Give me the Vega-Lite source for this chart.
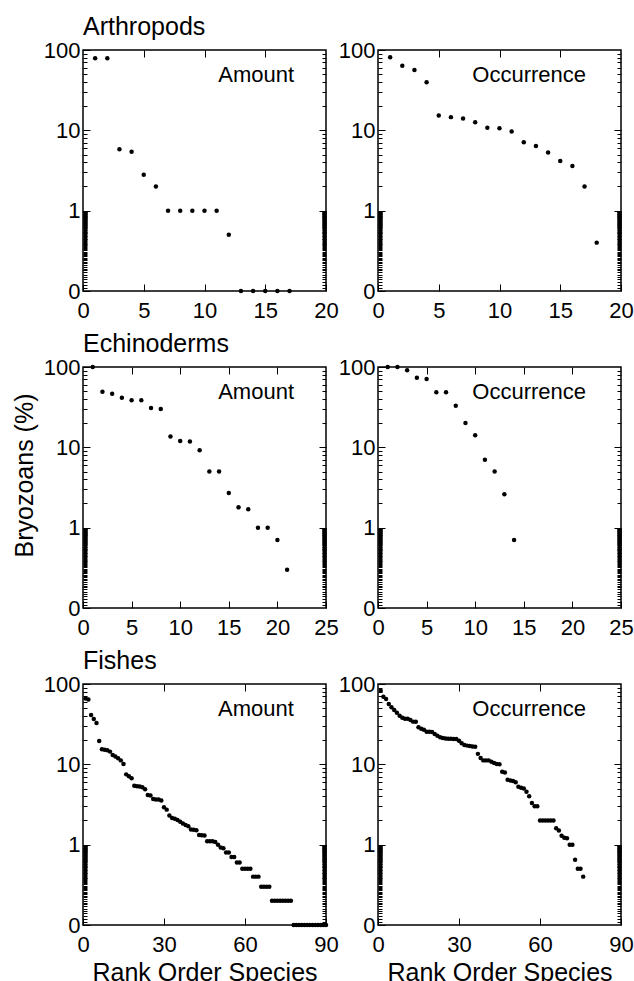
{
"$schema": "https://vega.github.io/schema/vega-lite/v6.json",
"padding": {"left": 11, "top": 15, "right": 0, "bottom": 0},
"spacing": 10,
"config": {
  "font": "Liberation Sans",
  "view": {"stroke": "black", "strokeWidth": 1.5},
  "axis": {"grid": false, "domain": false, "tickColor": "black", "tickWidth": 1, "labelFontSize": 22, "labelColor": "black", "labelFlush": false, "labelOverlap": false, "titleColor": "black", "titleFontWeight": "normal", "titleFontSize": 25},
  "title": {"color": "black", "fontWeight": "normal"}
},
"datasets": {
  "arth_amt": [{"rank":1,"pct":79},{"rank":2,"pct":79},{"rank":3,"pct":5.8},{"rank":4,"pct":5.4},{"rank":5,"pct":2.8},{"rank":6,"pct":2},{"rank":7,"pct":1},{"rank":8,"pct":1},{"rank":9,"pct":1},{"rank":10,"pct":1},{"rank":11,"pct":1},{"rank":12,"pct":0.5},{"rank":13,"pct":0},{"rank":14,"pct":0},{"rank":15,"pct":0},{"rank":16,"pct":0},{"rank":17,"pct":0}],
  "arth_occ": [{"rank":1,"pct":81},{"rank":2,"pct":63.8},{"rank":3,"pct":56.4},{"rank":4,"pct":39.6},{"rank":5,"pct":15.3},{"rank":6,"pct":14.6},{"rank":7,"pct":14},{"rank":8,"pct":12.6},{"rank":9,"pct":10.8},{"rank":10,"pct":10.6},{"rank":11,"pct":9.7},{"rank":12,"pct":7.1},{"rank":13,"pct":6.4},{"rank":14,"pct":5.3},{"rank":15,"pct":4.15},{"rank":16,"pct":3.6},{"rank":17,"pct":2},{"rank":18,"pct":0.4}],
  "echi_amt": [{"rank":1,"pct":100},{"rank":2,"pct":49.3},{"rank":3,"pct":46.6},{"rank":4,"pct":41.5},{"rank":5,"pct":38.5},{"rank":6,"pct":38.5},{"rank":7,"pct":30.9},{"rank":8,"pct":30},{"rank":9,"pct":13.6},{"rank":10,"pct":12},{"rank":11,"pct":11.8},{"rank":12,"pct":9.2},{"rank":13,"pct":5},{"rank":14,"pct":5},{"rank":15,"pct":2.7},{"rank":16,"pct":1.79},{"rank":17,"pct":1.69},{"rank":18,"pct":1},{"rank":19,"pct":1},{"rank":20,"pct":0.7},{"rank":21,"pct":0.3}],
  "echi_occ": [{"rank":1,"pct":100},{"rank":2,"pct":100},{"rank":3,"pct":91},{"rank":4,"pct":73.6},{"rank":5,"pct":70.9},{"rank":6,"pct":48.4},{"rank":7,"pct":48.4},{"rank":8,"pct":33},{"rank":9,"pct":20.1},{"rank":10,"pct":14.1},{"rank":11,"pct":7},{"rank":12,"pct":5},{"rank":13,"pct":2.6},{"rank":14,"pct":0.7}],
  "fish_amt": [{"rank":1,"pct":66},{"rank":2,"pct":64},{"rank":3,"pct":41},{"rank":4,"pct":36.6},{"rank":5,"pct":32.7},{"rank":6,"pct":19.5},{"rank":7,"pct":15.4},{"rank":8,"pct":15.2},{"rank":9,"pct":15},{"rank":10,"pct":14.4},{"rank":11,"pct":13.1},{"rank":12,"pct":12.5},{"rank":13,"pct":11.9},{"rank":14,"pct":11.2},{"rank":15,"pct":10.1},{"rank":16,"pct":7.5},{"rank":17,"pct":7.1},{"rank":18,"pct":6.7},{"rank":19,"pct":5.4},{"rank":20,"pct":5.35},{"rank":21,"pct":5.3},{"rank":22,"pct":5.2},{"rank":23,"pct":4.9},{"rank":24,"pct":4.15},{"rank":25,"pct":4.1},{"rank":26,"pct":3.7},{"rank":27,"pct":3.65},{"rank":28,"pct":3.65},{"rank":29,"pct":3.55},{"rank":30,"pct":2.92},{"rank":31,"pct":2.73},{"rank":32,"pct":2.3},{"rank":33,"pct":2.15},{"rank":34,"pct":2.1},{"rank":35,"pct":2.03},{"rank":36,"pct":1.93},{"rank":37,"pct":1.84},{"rank":38,"pct":1.76},{"rank":39,"pct":1.7},{"rank":40,"pct":1.54},{"rank":41,"pct":1.53},{"rank":42,"pct":1.51},{"rank":43,"pct":1.32},{"rank":44,"pct":1.31},{"rank":45,"pct":1.3},{"rank":46,"pct":1.1},{"rank":47,"pct":1.1},{"rank":48,"pct":1.1},{"rank":49,"pct":1.08},{"rank":50,"pct":1},{"rank":51,"pct":0.92},{"rank":52,"pct":0.9},{"rank":53,"pct":0.8},{"rank":54,"pct":0.8},{"rank":55,"pct":0.7},{"rank":56,"pct":0.7},{"rank":57,"pct":0.6},{"rank":58,"pct":0.6},{"rank":59,"pct":0.5},{"rank":60,"pct":0.5},{"rank":61,"pct":0.5},{"rank":62,"pct":0.5},{"rank":63,"pct":0.4},{"rank":64,"pct":0.4},{"rank":65,"pct":0.4},{"rank":66,"pct":0.3},{"rank":67,"pct":0.3},{"rank":68,"pct":0.3},{"rank":69,"pct":0.3},{"rank":70,"pct":0.2},{"rank":71,"pct":0.2},{"rank":72,"pct":0.2},{"rank":73,"pct":0.2},{"rank":74,"pct":0.2},{"rank":75,"pct":0.2},{"rank":76,"pct":0.2},{"rank":77,"pct":0.2},{"rank":78,"pct":0},{"rank":79,"pct":0},{"rank":80,"pct":0},{"rank":81,"pct":0},{"rank":82,"pct":0},{"rank":83,"pct":0},{"rank":84,"pct":0},{"rank":85,"pct":0},{"rank":86,"pct":0},{"rank":87,"pct":0},{"rank":88,"pct":0},{"rank":89,"pct":0},{"rank":90,"pct":0}],
  "fish_occ": [{"rank":1,"pct":82.6},{"rank":2,"pct":69.5},{"rank":3,"pct":65},{"rank":4,"pct":56.4},{"rank":5,"pct":51.2},{"rank":6,"pct":47.5},{"rank":7,"pct":44},{"rank":8,"pct":40.3},{"rank":9,"pct":38.1},{"rank":10,"pct":37},{"rank":11,"pct":37},{"rank":12,"pct":35.6},{"rank":13,"pct":34},{"rank":14,"pct":33.8},{"rank":15,"pct":28.9},{"rank":16,"pct":27.8},{"rank":17,"pct":27},{"rank":18,"pct":25.5},{"rank":19,"pct":25.5},{"rank":20,"pct":25.3},{"rank":21,"pct":23.9},{"rank":22,"pct":22.7},{"rank":23,"pct":21.7},{"rank":24,"pct":21.3},{"rank":25,"pct":21},{"rank":26,"pct":20.8},{"rank":27,"pct":20.8},{"rank":28,"pct":20.7},{"rank":29,"pct":20.7},{"rank":30,"pct":19.7},{"rank":31,"pct":18.3},{"rank":32,"pct":17.4},{"rank":33,"pct":17.1},{"rank":34,"pct":16.9},{"rank":35,"pct":16.7},{"rank":36,"pct":16.6},{"rank":37,"pct":13.5},{"rank":38,"pct":12},{"rank":39,"pct":11.2},{"rank":40,"pct":11.2},{"rank":41,"pct":11.2},{"rank":42,"pct":10.8},{"rank":43,"pct":10.4},{"rank":44,"pct":10.1},{"rank":45,"pct":10},{"rank":46,"pct":8.1},{"rank":47,"pct":7.9},{"rank":48,"pct":6.44},{"rank":49,"pct":6.3},{"rank":50,"pct":6.2},{"rank":51,"pct":5.97},{"rank":52,"pct":5.27},{"rank":53,"pct":5.12},{"rank":54,"pct":5},{"rank":55,"pct":4.57},{"rank":56,"pct":4},{"rank":57,"pct":3.3},{"rank":58,"pct":3},{"rank":59,"pct":3},{"rank":60,"pct":2},{"rank":61,"pct":2},{"rank":62,"pct":2},{"rank":63,"pct":2},{"rank":64,"pct":2},{"rank":65,"pct":2},{"rank":66,"pct":1.6},{"rank":67,"pct":1.5},{"rank":68,"pct":1.29},{"rank":69,"pct":1.22},{"rank":70,"pct":1.2},{"rank":71,"pct":1},{"rank":72,"pct":1},{"rank":73,"pct":0.65},{"rank":74,"pct":0.5},{"rank":75,"pct":0.5},{"rank":76,"pct":0.4}]
},
"vconcat": [
 {"title": {"text": "Arthropods", "anchor": "start", "frame": "group", "fontSize": 25, "offset": -2},
  "bounds": "flush", "spacing": 52,
  "hconcat": [
   {"width": 243, "height": 241, "data": {"name": "arth_amt"},
    "resolve": {"axis": {"x": "independent", "y": "independent"}},
    "layer": [
     {"mark": {"type": "point", "filled": true, "color": "black", "size": 20, "opacity": 1},
      "encoding": {"x": {"field": "rank", "type": "quantitative", "scale": {"domain": [0,20], "nice": false, "zero": false}, "axis": {"orient": "bottom", "values": [0,5,10,15,20], "tickSize": -7, "labelPadding": 16, "title": null}},
                   "y": {"field": "pct", "type": "quantitative", "scale": {"type": "log", "domain": [0.1,100], "nice": false, "clamp": true}, "axis": {"orient": "left", "values": [0.1,1,10,100], "labelExpr": "datum.value < 0.5 ? '0' : format(datum.value, 'd')", "tickSize": -7, "labelPadding": 10, "title": " ", "titlePadding": 6, "titleY": 108}}}},
     {"data": {"values": [{}]}, "mark": {"type": "text", "align": "right", "baseline": "alphabetic", "fontSize": 22, "color": "black"},
      "encoding": {"x": {"datum": 17.37, "type": "quantitative", "scale": {"domain": [0,20], "nice": false, "zero": false}, "axis": null},
                   "y": {"datum": 40.3, "type": "quantitative", "scale": {"type": "log", "domain": [0.1,100], "nice": false, "clamp": true}, "axis": null},
                   "text": {"value": "Amount"}}},
     {"mark": {"type": "point", "opacity": 0},
      "encoding": {"x": {"field": "rank", "type": "quantitative", "scale": {"domain": [0,20], "nice": false, "zero": false}, "axis": {"orient": "top", "values": [5,10,15], "tickSize": -7, "labels": false, "title": null}},
                   "y": {"field": "pct", "type": "quantitative", "scale": {"type": "log", "domain": [0.1,100], "nice": false, "clamp": true}, "axis": {"orient": "right", "values": [1,10], "tickSize": -7, "labels": false, "title": null}}}},
     {"mark": {"type": "point", "opacity": 0},
      "encoding": {"x": {"field": "rank", "type": "quantitative", "scale": {"domain": [0,20], "nice": false, "zero": false}, "axis": null},
                   "y": {"field": "pct", "type": "quantitative", "scale": {"type": "log", "domain": [0.1,100], "nice": false, "clamp": true}, "axis": {"orient": "left", "values": [0.11,0.12,0.13,0.14,0.15,0.16,0.17,0.18,0.19,0.2,0.21,0.22,0.23,0.24,0.25,0.26,0.27,0.28,0.29,0.3,0.31,0.32,0.33,0.34,0.35,0.36,0.37,0.38,0.39,0.4,0.41,0.42,0.43,0.44,0.45,0.46,0.47,0.48,0.49,0.5,0.51,0.52,0.53,0.54,0.55,0.56,0.57,0.58,0.59,0.6,0.61,0.62,0.63,0.64,0.65,0.66,0.67,0.68,0.69,0.7,0.71,0.72,0.73,0.74,0.75,0.76,0.77,0.78,0.79,0.8,0.81,0.82,0.83,0.84,0.85,0.86,0.87,0.88,0.89,0.9,0.91,0.92,0.93,0.94,0.95,0.96,0.97,0.98,0.99,2,3,4,5,6,7,8,9,20,30,40,50,60,70,80,90], "tickSize": -4, "labels": false, "title": null}}}},
     {"mark": {"type": "point", "opacity": 0},
      "encoding": {"x": {"field": "rank", "type": "quantitative", "scale": {"domain": [0,20], "nice": false, "zero": false}, "axis": null},
                   "y": {"field": "pct", "type": "quantitative", "scale": {"type": "log", "domain": [0.1,100], "nice": false, "clamp": true}, "axis": {"orient": "right", "values": [0.11,0.12,0.13,0.14,0.15,0.16,0.17,0.18,0.19,0.2,0.21,0.22,0.23,0.24,0.25,0.26,0.27,0.28,0.29,0.3,0.31,0.32,0.33,0.34,0.35,0.36,0.37,0.38,0.39,0.4,0.41,0.42,0.43,0.44,0.45,0.46,0.47,0.48,0.49,0.5,0.51,0.52,0.53,0.54,0.55,0.56,0.57,0.58,0.59,0.6,0.61,0.62,0.63,0.64,0.65,0.66,0.67,0.68,0.69,0.7,0.71,0.72,0.73,0.74,0.75,0.76,0.77,0.78,0.79,0.8,0.81,0.82,0.83,0.84,0.85,0.86,0.87,0.88,0.89,0.9,0.91,0.92,0.93,0.94,0.95,0.96,0.97,0.98,0.99,2,3,4,5,6,7,8,9,20,30,40,50,60,70,80,90], "tickSize": -4, "labels": false, "title": null}}}}
    ]},
   {"width": 243, "height": 241, "data": {"name": "arth_occ"},
    "resolve": {"axis": {"x": "independent", "y": "independent"}},
    "layer": [
     {"mark": {"type": "point", "filled": true, "color": "black", "size": 20, "opacity": 1},
      "encoding": {"x": {"field": "rank", "type": "quantitative", "scale": {"domain": [0,20], "nice": false, "zero": false}, "axis": {"orient": "bottom", "values": [0,5,10,15,20], "tickSize": -7, "labelPadding": 16, "title": null}},
                   "y": {"field": "pct", "type": "quantitative", "scale": {"type": "log", "domain": [0.1,100], "nice": false, "clamp": true}, "axis": {"orient": "left", "values": [0.1,1,10,100], "labelExpr": "datum.value < 0.5 ? '0' : format(datum.value, 'd')", "tickSize": -7, "labelPadding": 10, "title": null}}}},
     {"data": {"values": [{}]}, "mark": {"type": "text", "align": "right", "baseline": "alphabetic", "fontSize": 22, "color": "black"},
      "encoding": {"x": {"datum": 17.12, "type": "quantitative", "scale": {"domain": [0,20], "nice": false, "zero": false}, "axis": null},
                   "y": {"datum": 40.3, "type": "quantitative", "scale": {"type": "log", "domain": [0.1,100], "nice": false, "clamp": true}, "axis": null},
                   "text": {"value": "Occurrence"}}},
     {"mark": {"type": "point", "opacity": 0},
      "encoding": {"x": {"field": "rank", "type": "quantitative", "scale": {"domain": [0,20], "nice": false, "zero": false}, "axis": {"orient": "top", "values": [5,10,15], "tickSize": -7, "labels": false, "title": null}},
                   "y": {"field": "pct", "type": "quantitative", "scale": {"type": "log", "domain": [0.1,100], "nice": false, "clamp": true}, "axis": {"orient": "right", "values": [1,10], "tickSize": -7, "labels": false, "title": null}}}},
     {"mark": {"type": "point", "opacity": 0},
      "encoding": {"x": {"field": "rank", "type": "quantitative", "scale": {"domain": [0,20], "nice": false, "zero": false}, "axis": null},
                   "y": {"field": "pct", "type": "quantitative", "scale": {"type": "log", "domain": [0.1,100], "nice": false, "clamp": true}, "axis": {"orient": "left", "values": [0.11,0.12,0.13,0.14,0.15,0.16,0.17,0.18,0.19,0.2,0.21,0.22,0.23,0.24,0.25,0.26,0.27,0.28,0.29,0.3,0.31,0.32,0.33,0.34,0.35,0.36,0.37,0.38,0.39,0.4,0.41,0.42,0.43,0.44,0.45,0.46,0.47,0.48,0.49,0.5,0.51,0.52,0.53,0.54,0.55,0.56,0.57,0.58,0.59,0.6,0.61,0.62,0.63,0.64,0.65,0.66,0.67,0.68,0.69,0.7,0.71,0.72,0.73,0.74,0.75,0.76,0.77,0.78,0.79,0.8,0.81,0.82,0.83,0.84,0.85,0.86,0.87,0.88,0.89,0.9,0.91,0.92,0.93,0.94,0.95,0.96,0.97,0.98,0.99,2,3,4,5,6,7,8,9,20,30,40,50,60,70,80,90], "tickSize": -4, "labels": false, "title": null}}}},
     {"mark": {"type": "point", "opacity": 0},
      "encoding": {"x": {"field": "rank", "type": "quantitative", "scale": {"domain": [0,20], "nice": false, "zero": false}, "axis": null},
                   "y": {"field": "pct", "type": "quantitative", "scale": {"type": "log", "domain": [0.1,100], "nice": false, "clamp": true}, "axis": {"orient": "right", "values": [0.11,0.12,0.13,0.14,0.15,0.16,0.17,0.18,0.19,0.2,0.21,0.22,0.23,0.24,0.25,0.26,0.27,0.28,0.29,0.3,0.31,0.32,0.33,0.34,0.35,0.36,0.37,0.38,0.39,0.4,0.41,0.42,0.43,0.44,0.45,0.46,0.47,0.48,0.49,0.5,0.51,0.52,0.53,0.54,0.55,0.56,0.57,0.58,0.59,0.6,0.61,0.62,0.63,0.64,0.65,0.66,0.67,0.68,0.69,0.7,0.71,0.72,0.73,0.74,0.75,0.76,0.77,0.78,0.79,0.8,0.81,0.82,0.83,0.84,0.85,0.86,0.87,0.88,0.89,0.9,0.91,0.92,0.93,0.94,0.95,0.96,0.97,0.98,0.99,2,3,4,5,6,7,8,9,20,30,40,50,60,70,80,90], "tickSize": -4, "labels": false, "title": null}}}}
    ]}
  ]},
 {"title": {"text": "Echinoderms", "anchor": "start", "frame": "group", "fontSize": 25, "offset": -2},
  "bounds": "flush", "spacing": 52,
  "hconcat": [
   {"width": 243, "height": 241, "data": {"name": "echi_amt"},
    "resolve": {"axis": {"x": "independent", "y": "independent"}},
    "layer": [
     {"mark": {"type": "point", "filled": true, "color": "black", "size": 20, "opacity": 1},
      "encoding": {"x": {"field": "rank", "type": "quantitative", "scale": {"domain": [0,25], "nice": false, "zero": false}, "axis": {"orient": "bottom", "values": [0,5,10,15,20,25], "tickSize": -7, "labelPadding": 16, "title": null}},
                   "y": {"field": "pct", "type": "quantitative", "scale": {"type": "log", "domain": [0.1,100], "nice": false, "clamp": true}, "axis": {"orient": "left", "values": [0.1,1,10,100], "labelExpr": "datum.value < 0.5 ? '0' : format(datum.value, 'd')", "tickSize": -7, "labelPadding": 10, "title": "Bryozoans (%)", "titlePadding": 6, "titleY": 108}}}},
     {"data": {"values": [{}]}, "mark": {"type": "text", "align": "right", "baseline": "alphabetic", "fontSize": 22, "color": "black"},
      "encoding": {"x": {"datum": 21.71, "type": "quantitative", "scale": {"domain": [0,25], "nice": false, "zero": false}, "axis": null},
                   "y": {"datum": 40.3, "type": "quantitative", "scale": {"type": "log", "domain": [0.1,100], "nice": false, "clamp": true}, "axis": null},
                   "text": {"value": "Amount"}}},
     {"mark": {"type": "point", "opacity": 0},
      "encoding": {"x": {"field": "rank", "type": "quantitative", "scale": {"domain": [0,25], "nice": false, "zero": false}, "axis": {"orient": "top", "values": [5,10,15,20], "tickSize": -7, "labels": false, "title": null}},
                   "y": {"field": "pct", "type": "quantitative", "scale": {"type": "log", "domain": [0.1,100], "nice": false, "clamp": true}, "axis": {"orient": "right", "values": [1,10], "tickSize": -7, "labels": false, "title": null}}}},
     {"mark": {"type": "point", "opacity": 0},
      "encoding": {"x": {"field": "rank", "type": "quantitative", "scale": {"domain": [0,25], "nice": false, "zero": false}, "axis": null},
                   "y": {"field": "pct", "type": "quantitative", "scale": {"type": "log", "domain": [0.1,100], "nice": false, "clamp": true}, "axis": {"orient": "left", "values": [0.11,0.12,0.13,0.14,0.15,0.16,0.17,0.18,0.19,0.2,0.21,0.22,0.23,0.24,0.25,0.26,0.27,0.28,0.29,0.3,0.31,0.32,0.33,0.34,0.35,0.36,0.37,0.38,0.39,0.4,0.41,0.42,0.43,0.44,0.45,0.46,0.47,0.48,0.49,0.5,0.51,0.52,0.53,0.54,0.55,0.56,0.57,0.58,0.59,0.6,0.61,0.62,0.63,0.64,0.65,0.66,0.67,0.68,0.69,0.7,0.71,0.72,0.73,0.74,0.75,0.76,0.77,0.78,0.79,0.8,0.81,0.82,0.83,0.84,0.85,0.86,0.87,0.88,0.89,0.9,0.91,0.92,0.93,0.94,0.95,0.96,0.97,0.98,0.99,2,3,4,5,6,7,8,9,20,30,40,50,60,70,80,90], "tickSize": -4, "labels": false, "title": null}}}},
     {"mark": {"type": "point", "opacity": 0},
      "encoding": {"x": {"field": "rank", "type": "quantitative", "scale": {"domain": [0,25], "nice": false, "zero": false}, "axis": null},
                   "y": {"field": "pct", "type": "quantitative", "scale": {"type": "log", "domain": [0.1,100], "nice": false, "clamp": true}, "axis": {"orient": "right", "values": [0.11,0.12,0.13,0.14,0.15,0.16,0.17,0.18,0.19,0.2,0.21,0.22,0.23,0.24,0.25,0.26,0.27,0.28,0.29,0.3,0.31,0.32,0.33,0.34,0.35,0.36,0.37,0.38,0.39,0.4,0.41,0.42,0.43,0.44,0.45,0.46,0.47,0.48,0.49,0.5,0.51,0.52,0.53,0.54,0.55,0.56,0.57,0.58,0.59,0.6,0.61,0.62,0.63,0.64,0.65,0.66,0.67,0.68,0.69,0.7,0.71,0.72,0.73,0.74,0.75,0.76,0.77,0.78,0.79,0.8,0.81,0.82,0.83,0.84,0.85,0.86,0.87,0.88,0.89,0.9,0.91,0.92,0.93,0.94,0.95,0.96,0.97,0.98,0.99,2,3,4,5,6,7,8,9,20,30,40,50,60,70,80,90], "tickSize": -4, "labels": false, "title": null}}}}
    ]},
   {"width": 243, "height": 241, "data": {"name": "echi_occ"},
    "resolve": {"axis": {"x": "independent", "y": "independent"}},
    "layer": [
     {"mark": {"type": "point", "filled": true, "color": "black", "size": 20, "opacity": 1},
      "encoding": {"x": {"field": "rank", "type": "quantitative", "scale": {"domain": [0,25], "nice": false, "zero": false}, "axis": {"orient": "bottom", "values": [0,5,10,15,20,25], "tickSize": -7, "labelPadding": 16, "title": null}},
                   "y": {"field": "pct", "type": "quantitative", "scale": {"type": "log", "domain": [0.1,100], "nice": false, "clamp": true}, "axis": {"orient": "left", "values": [0.1,1,10,100], "labelExpr": "datum.value < 0.5 ? '0' : format(datum.value, 'd')", "tickSize": -7, "labelPadding": 10, "title": null}}}},
     {"data": {"values": [{}]}, "mark": {"type": "text", "align": "right", "baseline": "alphabetic", "fontSize": 22, "color": "black"},
      "encoding": {"x": {"datum": 21.4, "type": "quantitative", "scale": {"domain": [0,25], "nice": false, "zero": false}, "axis": null},
                   "y": {"datum": 40.3, "type": "quantitative", "scale": {"type": "log", "domain": [0.1,100], "nice": false, "clamp": true}, "axis": null},
                   "text": {"value": "Occurrence"}}},
     {"mark": {"type": "point", "opacity": 0},
      "encoding": {"x": {"field": "rank", "type": "quantitative", "scale": {"domain": [0,25], "nice": false, "zero": false}, "axis": {"orient": "top", "values": [5,10,15,20], "tickSize": -7, "labels": false, "title": null}},
                   "y": {"field": "pct", "type": "quantitative", "scale": {"type": "log", "domain": [0.1,100], "nice": false, "clamp": true}, "axis": {"orient": "right", "values": [1,10], "tickSize": -7, "labels": false, "title": null}}}},
     {"mark": {"type": "point", "opacity": 0},
      "encoding": {"x": {"field": "rank", "type": "quantitative", "scale": {"domain": [0,25], "nice": false, "zero": false}, "axis": null},
                   "y": {"field": "pct", "type": "quantitative", "scale": {"type": "log", "domain": [0.1,100], "nice": false, "clamp": true}, "axis": {"orient": "left", "values": [0.11,0.12,0.13,0.14,0.15,0.16,0.17,0.18,0.19,0.2,0.21,0.22,0.23,0.24,0.25,0.26,0.27,0.28,0.29,0.3,0.31,0.32,0.33,0.34,0.35,0.36,0.37,0.38,0.39,0.4,0.41,0.42,0.43,0.44,0.45,0.46,0.47,0.48,0.49,0.5,0.51,0.52,0.53,0.54,0.55,0.56,0.57,0.58,0.59,0.6,0.61,0.62,0.63,0.64,0.65,0.66,0.67,0.68,0.69,0.7,0.71,0.72,0.73,0.74,0.75,0.76,0.77,0.78,0.79,0.8,0.81,0.82,0.83,0.84,0.85,0.86,0.87,0.88,0.89,0.9,0.91,0.92,0.93,0.94,0.95,0.96,0.97,0.98,0.99,2,3,4,5,6,7,8,9,20,30,40,50,60,70,80,90], "tickSize": -4, "labels": false, "title": null}}}},
     {"mark": {"type": "point", "opacity": 0},
      "encoding": {"x": {"field": "rank", "type": "quantitative", "scale": {"domain": [0,25], "nice": false, "zero": false}, "axis": null},
                   "y": {"field": "pct", "type": "quantitative", "scale": {"type": "log", "domain": [0.1,100], "nice": false, "clamp": true}, "axis": {"orient": "right", "values": [0.11,0.12,0.13,0.14,0.15,0.16,0.17,0.18,0.19,0.2,0.21,0.22,0.23,0.24,0.25,0.26,0.27,0.28,0.29,0.3,0.31,0.32,0.33,0.34,0.35,0.36,0.37,0.38,0.39,0.4,0.41,0.42,0.43,0.44,0.45,0.46,0.47,0.48,0.49,0.5,0.51,0.52,0.53,0.54,0.55,0.56,0.57,0.58,0.59,0.6,0.61,0.62,0.63,0.64,0.65,0.66,0.67,0.68,0.69,0.7,0.71,0.72,0.73,0.74,0.75,0.76,0.77,0.78,0.79,0.8,0.81,0.82,0.83,0.84,0.85,0.86,0.87,0.88,0.89,0.9,0.91,0.92,0.93,0.94,0.95,0.96,0.97,0.98,0.99,2,3,4,5,6,7,8,9,20,30,40,50,60,70,80,90], "tickSize": -4, "labels": false, "title": null}}}}
    ]}
  ]},
 {"title": {"text": "Fishes", "anchor": "start", "frame": "group", "fontSize": 25, "offset": -2},
  "bounds": "flush", "spacing": 52,
  "hconcat": [
   {"width": 243, "height": 241, "data": {"name": "fish_amt"},
    "resolve": {"axis": {"x": "independent", "y": "independent"}},
    "layer": [
     {"mark": {"type": "point", "filled": true, "color": "black", "size": 20, "opacity": 1},
      "encoding": {"x": {"field": "rank", "type": "quantitative", "scale": {"domain": [0,90], "nice": false, "zero": false}, "axis": {"orient": "bottom", "values": [0,30,60,90], "tickSize": -7, "labelPadding": 16, "title": "Rank Order Species", "titlePadding": 5}},
                   "y": {"field": "pct", "type": "quantitative", "scale": {"type": "log", "domain": [0.1,100], "nice": false, "clamp": true}, "axis": {"orient": "left", "values": [0.1,1,10,100], "labelExpr": "datum.value < 0.5 ? '0' : format(datum.value, 'd')", "tickSize": -7, "labelPadding": 10, "title": " ", "titlePadding": 6, "titleY": 108}}}},
     {"data": {"values": [{}]}, "mark": {"type": "text", "align": "right", "baseline": "alphabetic", "fontSize": 22, "color": "black"},
      "encoding": {"x": {"datum": 78.1, "type": "quantitative", "scale": {"domain": [0,90], "nice": false, "zero": false}, "axis": null},
                   "y": {"datum": 40.3, "type": "quantitative", "scale": {"type": "log", "domain": [0.1,100], "nice": false, "clamp": true}, "axis": null},
                   "text": {"value": "Amount"}}},
     {"mark": {"type": "point", "opacity": 0},
      "encoding": {"x": {"field": "rank", "type": "quantitative", "scale": {"domain": [0,90], "nice": false, "zero": false}, "axis": {"orient": "top", "values": [30,60], "tickSize": -7, "labels": false, "title": null}},
                   "y": {"field": "pct", "type": "quantitative", "scale": {"type": "log", "domain": [0.1,100], "nice": false, "clamp": true}, "axis": {"orient": "right", "values": [1,10], "tickSize": -7, "labels": false, "title": null}}}},
     {"mark": {"type": "point", "opacity": 0},
      "encoding": {"x": {"field": "rank", "type": "quantitative", "scale": {"domain": [0,90], "nice": false, "zero": false}, "axis": null},
                   "y": {"field": "pct", "type": "quantitative", "scale": {"type": "log", "domain": [0.1,100], "nice": false, "clamp": true}, "axis": {"orient": "left", "values": [0.11,0.12,0.13,0.14,0.15,0.16,0.17,0.18,0.19,0.2,0.21,0.22,0.23,0.24,0.25,0.26,0.27,0.28,0.29,0.3,0.31,0.32,0.33,0.34,0.35,0.36,0.37,0.38,0.39,0.4,0.41,0.42,0.43,0.44,0.45,0.46,0.47,0.48,0.49,0.5,0.51,0.52,0.53,0.54,0.55,0.56,0.57,0.58,0.59,0.6,0.61,0.62,0.63,0.64,0.65,0.66,0.67,0.68,0.69,0.7,0.71,0.72,0.73,0.74,0.75,0.76,0.77,0.78,0.79,0.8,0.81,0.82,0.83,0.84,0.85,0.86,0.87,0.88,0.89,0.9,0.91,0.92,0.93,0.94,0.95,0.96,0.97,0.98,0.99,2,3,4,5,6,7,8,9,20,30,40,50,60,70,80,90], "tickSize": -4, "labels": false, "title": null}}}},
     {"mark": {"type": "point", "opacity": 0},
      "encoding": {"x": {"field": "rank", "type": "quantitative", "scale": {"domain": [0,90], "nice": false, "zero": false}, "axis": null},
                   "y": {"field": "pct", "type": "quantitative", "scale": {"type": "log", "domain": [0.1,100], "nice": false, "clamp": true}, "axis": {"orient": "right", "values": [0.11,0.12,0.13,0.14,0.15,0.16,0.17,0.18,0.19,0.2,0.21,0.22,0.23,0.24,0.25,0.26,0.27,0.28,0.29,0.3,0.31,0.32,0.33,0.34,0.35,0.36,0.37,0.38,0.39,0.4,0.41,0.42,0.43,0.44,0.45,0.46,0.47,0.48,0.49,0.5,0.51,0.52,0.53,0.54,0.55,0.56,0.57,0.58,0.59,0.6,0.61,0.62,0.63,0.64,0.65,0.66,0.67,0.68,0.69,0.7,0.71,0.72,0.73,0.74,0.75,0.76,0.77,0.78,0.79,0.8,0.81,0.82,0.83,0.84,0.85,0.86,0.87,0.88,0.89,0.9,0.91,0.92,0.93,0.94,0.95,0.96,0.97,0.98,0.99,2,3,4,5,6,7,8,9,20,30,40,50,60,70,80,90], "tickSize": -4, "labels": false, "title": null}}}}
    ]},
   {"width": 243, "height": 241, "data": {"name": "fish_occ"},
    "resolve": {"axis": {"x": "independent", "y": "independent"}},
    "layer": [
     {"mark": {"type": "point", "filled": true, "color": "black", "size": 20, "opacity": 1},
      "encoding": {"x": {"field": "rank", "type": "quantitative", "scale": {"domain": [0,90], "nice": false, "zero": false}, "axis": {"orient": "bottom", "values": [0,30,60,90], "tickSize": -7, "labelPadding": 16, "title": "Rank Order Species", "titlePadding": 5}},
                   "y": {"field": "pct", "type": "quantitative", "scale": {"type": "log", "domain": [0.1,100], "nice": false, "clamp": true}, "axis": {"orient": "left", "values": [0.1,1,10,100], "labelExpr": "datum.value < 0.5 ? '0' : format(datum.value, 'd')", "tickSize": -7, "labelPadding": 10, "title": null}}}},
     {"data": {"values": [{}]}, "mark": {"type": "text", "align": "right", "baseline": "alphabetic", "fontSize": 22, "color": "black"},
      "encoding": {"x": {"datum": 77.04, "type": "quantitative", "scale": {"domain": [0,90], "nice": false, "zero": false}, "axis": null},
                   "y": {"datum": 40.3, "type": "quantitative", "scale": {"type": "log", "domain": [0.1,100], "nice": false, "clamp": true}, "axis": null},
                   "text": {"value": "Occurrence"}}},
     {"mark": {"type": "point", "opacity": 0},
      "encoding": {"x": {"field": "rank", "type": "quantitative", "scale": {"domain": [0,90], "nice": false, "zero": false}, "axis": {"orient": "top", "values": [30,60], "tickSize": -7, "labels": false, "title": null}},
                   "y": {"field": "pct", "type": "quantitative", "scale": {"type": "log", "domain": [0.1,100], "nice": false, "clamp": true}, "axis": {"orient": "right", "values": [1,10], "tickSize": -7, "labels": false, "title": null}}}},
     {"mark": {"type": "point", "opacity": 0},
      "encoding": {"x": {"field": "rank", "type": "quantitative", "scale": {"domain": [0,90], "nice": false, "zero": false}, "axis": null},
                   "y": {"field": "pct", "type": "quantitative", "scale": {"type": "log", "domain": [0.1,100], "nice": false, "clamp": true}, "axis": {"orient": "left", "values": [0.11,0.12,0.13,0.14,0.15,0.16,0.17,0.18,0.19,0.2,0.21,0.22,0.23,0.24,0.25,0.26,0.27,0.28,0.29,0.3,0.31,0.32,0.33,0.34,0.35,0.36,0.37,0.38,0.39,0.4,0.41,0.42,0.43,0.44,0.45,0.46,0.47,0.48,0.49,0.5,0.51,0.52,0.53,0.54,0.55,0.56,0.57,0.58,0.59,0.6,0.61,0.62,0.63,0.64,0.65,0.66,0.67,0.68,0.69,0.7,0.71,0.72,0.73,0.74,0.75,0.76,0.77,0.78,0.79,0.8,0.81,0.82,0.83,0.84,0.85,0.86,0.87,0.88,0.89,0.9,0.91,0.92,0.93,0.94,0.95,0.96,0.97,0.98,0.99,2,3,4,5,6,7,8,9,20,30,40,50,60,70,80,90], "tickSize": -4, "labels": false, "title": null}}}},
     {"mark": {"type": "point", "opacity": 0},
      "encoding": {"x": {"field": "rank", "type": "quantitative", "scale": {"domain": [0,90], "nice": false, "zero": false}, "axis": null},
                   "y": {"field": "pct", "type": "quantitative", "scale": {"type": "log", "domain": [0.1,100], "nice": false, "clamp": true}, "axis": {"orient": "right", "values": [0.11,0.12,0.13,0.14,0.15,0.16,0.17,0.18,0.19,0.2,0.21,0.22,0.23,0.24,0.25,0.26,0.27,0.28,0.29,0.3,0.31,0.32,0.33,0.34,0.35,0.36,0.37,0.38,0.39,0.4,0.41,0.42,0.43,0.44,0.45,0.46,0.47,0.48,0.49,0.5,0.51,0.52,0.53,0.54,0.55,0.56,0.57,0.58,0.59,0.6,0.61,0.62,0.63,0.64,0.65,0.66,0.67,0.68,0.69,0.7,0.71,0.72,0.73,0.74,0.75,0.76,0.77,0.78,0.79,0.8,0.81,0.82,0.83,0.84,0.85,0.86,0.87,0.88,0.89,0.9,0.91,0.92,0.93,0.94,0.95,0.96,0.97,0.98,0.99,2,3,4,5,6,7,8,9,20,30,40,50,60,70,80,90], "tickSize": -4, "labels": false, "title": null}}}}
    ]}
  ]}
]
}
